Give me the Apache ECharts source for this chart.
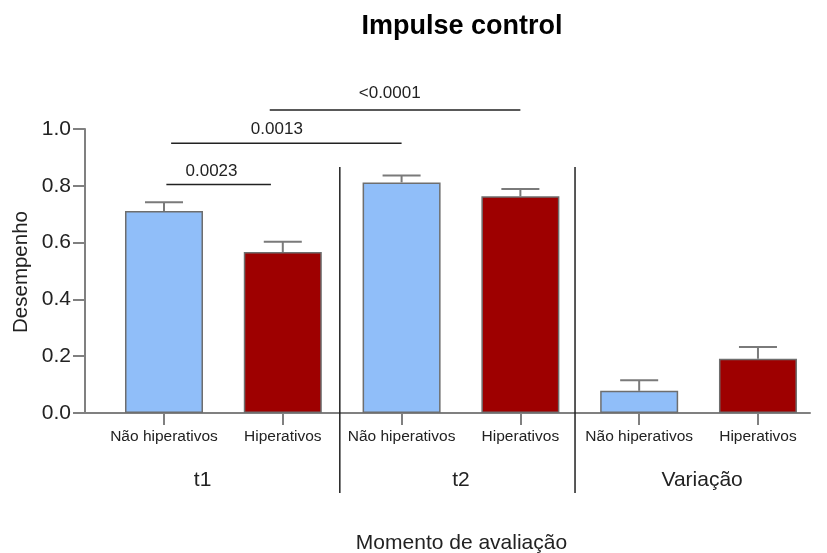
<!DOCTYPE html>
<html>
<head>
<meta charset="utf-8">
<script src="https://cdn.jsdelivr.net/npm/echarts@6/dist/echarts.min.js"></script>
<style>
html,body{margin:0;padding:0;background:#fff;}
#chart{width:827px;height:553px;}
</style>
</head>
<body>
<div id="chart"></div>
<script>
// ---- data ----
const categories = ['Não hiperativos', 'Hiperativos', 'Não hiperativos', 'Hiperativos', 'Não hiperativos', 'Hiperativos'];
const groupLabels = ['t1', 't2', 'Variação'];
const means = [0.711, 0.567, 0.812, 0.763, 0.078, 0.191];
const sems = [0.031, 0.036, 0.024, 0.026, 0.037, 0.041];
const yTicks = [0, 0.2, 0.4, 0.6, 0.8, 1.0];
const pValues = ['0.0023', '0.0013', '<0.0001'];

// annotation placement in axis units (x = category position, y = value)
const bracketX = [[1.02, 1.90], [1.06, 3.00], [1.89, 4.00]];
const bracketY = [0.805, 0.950, 1.067];
const pLabelPos = [[1.40, 0.852], [1.95, 0.998], [2.90, 1.127]];
const dividerX = [2.48, 4.46];
const dividerY = [0.866, -0.282];
const groupLabelPos = [[1.325, -0.236], [3.50, -0.236], [5.53, -0.236]];

const blue = '#90bef9';
const red = '#9e0000';
const xs = categories.map((_, i) => i + 1);
const FONT = '"Liberation Sans", Arial, Helvetica, sans-serif';

const chart = echarts.init(document.getElementById('chart'), null, {renderer: 'canvas'});

const option = {
  animation: false,
  backgroundColor: '#fff',
  grid: {left: 85, right: 17, top: 129, bottom: 140, containLabel: false},
  xAxis: {
    type: 'value',
    min: 0.335,
    max: 6.438,
    splitLine: {show: false},
    axisLine: {show: true, onZero: false, lineStyle: {color: '#808080', width: 2}},
    axisTick: {show: true, customValues: xs, length: 12, lineStyle: {color: '#808080', width: 2}},
    axisLabel: {
      show: true, customValues: xs, margin: 16,
      formatter: v => categories[Math.round(v) - 1],
      color: '#222', fontSize: 15.5, fontFamily: FONT
    }
  },
  yAxis: {
    type: 'value',
    min: 0, max: 1.0, interval: 0.2,
    splitLine: {show: false},
    axisLine: {show: true, lineStyle: {color: '#808080', width: 2}},
    axisTick: {show: true, length: 12, lineStyle: {color: '#808080', width: 2}},
    axisLabel: {
      margin: 14, color: '#222', fontSize: 21, fontFamily: FONT,
      formatter: v => v.toFixed(1)
    }
  },
  graphic: [
    {type: 'text', x: 462, y: 26.5, style: {text: 'Impulse control', font: 'bold 27px ' + FONT, fill: '#000', align: 'center', verticalAlign: 'middle'}},
    {type: 'text', x: 461.5, y: 543, style: {text: 'Momento de avaliação', font: '21px ' + FONT, fill: '#222', align: 'center', verticalAlign: 'middle'}},
    {type: 'text', x: 21, y: 272, rotation: Math.PI / 2, style: {text: 'Desempenho', font: '20.5px ' + FONT, fill: '#222', align: 'center', verticalAlign: 'middle'}}
  ],
  series: [
    {
      type: 'bar',
      barWidth: 78,
      data: means.map((m, i) => ({
        value: [xs[i], m],
        itemStyle: {color: i % 2 === 0 ? blue : red, borderColor: '#6e6e6e', borderWidth: 1.5}
      })),
      z: 2
    },
    {
      type: 'custom',
      z: 3,
      clip: false,
      data: means.map((m, i) => [xs[i], m, sems[i]]),
      renderItem: (params, api) => {
        const x = api.value(0), m = api.value(1), e = api.value(2);
        const b = api.coord([x, m]);
        const t = api.coord([x, m + e]);
        const l = api.coord([x - 0.16, m + e]);
        const r = api.coord([x + 0.16, m + e]);
        const st = {stroke: '#7a7a7a', lineWidth: 2};
        return {type: 'group', children: [
          {type: 'line', shape: {x1: b[0], y1: b[1], x2: t[0], y2: t[1]}, style: st},
          {type: 'line', shape: {x1: l[0], y1: l[1], x2: r[0], y2: r[1]}, style: st}
        ]};
      }
    },
    {
      type: 'custom',
      z: 4,
      clip: false,
      data: pValues.map((p, i) => [bracketX[i][0], bracketX[i][1], bracketY[i], pLabelPos[i][0], pLabelPos[i][1], i]),
      renderItem: (params, api) => {
        const a = api.coord([api.value(0), api.value(2)]);
        const b = api.coord([api.value(1), api.value(2)]);
        const tp = api.coord([api.value(3), api.value(4)]);
        return {type: 'group', children: [
          {type: 'line', shape: {x1: a[0], y1: a[1], x2: b[0], y2: b[1]}, style: {stroke: '#222', lineWidth: 1.5}},
          {type: 'text', x: tp[0], y: tp[1], style: {text: pValues[api.value(5)], font: '17px ' + FONT, fill: '#222', align: 'center', verticalAlign: 'middle'}}
        ]};
      }
    },
    {
      type: 'custom',
      z: 4,
      clip: false,
      data: dividerX.map(x => [x, dividerY[0], dividerY[1]]),
      renderItem: (params, api) => {
        const a = api.coord([api.value(0), api.value(1)]);
        const b = api.coord([api.value(0), api.value(2)]);
        return {type: 'line', shape: {x1: a[0], y1: a[1], x2: b[0], y2: b[1]}, style: {stroke: '#222', lineWidth: 1.5}};
      }
    },
    {
      type: 'custom',
      z: 4,
      clip: false,
      data: groupLabelPos.map((p, i) => [p[0], p[1], i]),
      renderItem: (params, api) => {
        const p = api.coord([api.value(0), api.value(1)]);
        return {type: 'text', x: p[0], y: p[1], style: {text: groupLabels[api.value(2)], font: '21px ' + FONT, fill: '#222', align: 'center', verticalAlign: 'middle'}};
      }
    }
  ]
};
chart.setOption(option);
</script>
</body>
</html>
